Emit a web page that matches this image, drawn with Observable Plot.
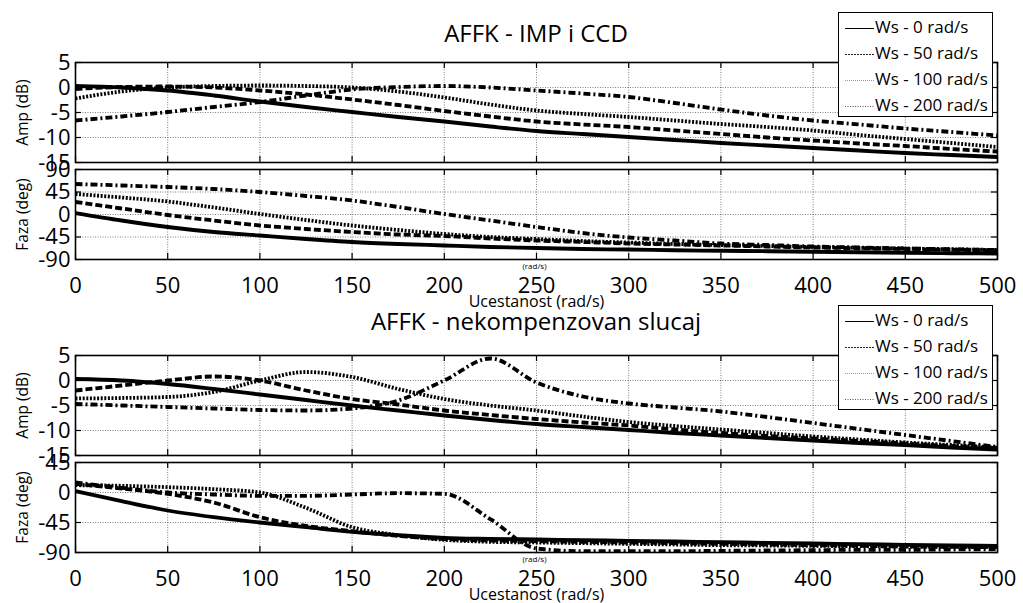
<!DOCTYPE html>
<html>
<head>
<meta charset="utf-8">
<script src="https://cdn.jsdelivr.net/npm/d3@7"></script>
<script src="https://cdn.jsdelivr.net/npm/@observablehq/plot@0.6"></script>
<style>
  html, body { margin: 0; padding: 0; background: #fff; }
  #root { position: relative; width: 1023px; height: 603px; overflow: hidden; font-family: "Open Sans", sans-serif; background: #fff; }
  .pl { position: absolute; left: 0; }
  .title { position: absolute; left: 75px; width: 922px; text-align: center; font-size: 24px; line-height: 1; color: #000; white-space: nowrap; }
  .legend { position: absolute; left: 838px; width: 155px; height: 105px; border: 1px solid #000; background: #fff; box-sizing: border-box; z-index: 10; }
  .legend .row { position: absolute; left: 0; height: 26px; line-height: 26px; font-size: 17px; white-space: nowrap; }
  .legend svg { position: absolute; left: 6px; top: 12px; }
  .legend span { position: absolute; left: 36px; top: -1px; }
</style>
</head>
<body>
<div id="root"></div>
<script>
// ---------------- data ----------------
const xs = [0, 25, 50, 75, 100, 125, 150, 175, 200, 225, 250, 275, 300, 325, 350, 375, 400, 425, 450, 475, 500];
const seriesNames = ["Ws - 0 rad/s", "Ws - 50 rad/s", "Ws - 100 rad/s", "Ws - 200 rad/s"];
const xTicks = [0, 50, 100, 150, 200, 250, 300, 350, 400, 450, 500];
const ampTicks = [5, 0, -5, -10, -15];
const phaseTicksTop = [90, 45, 0, -45, -90];
const phaseTicksBottom = [45, 0, -45, -90];

const titleTop = "AFFK - IMP i CCD";
const titleBottom = "AFFK - nekompenzovan slucaj";
const xLabel = "Ucestanost (rad/s)";

// AFFK - IMP i CCD, amplitude (dB)
const ampCCD_ws0   = [0.3, 0, -0.6, -1.6, -2.8, -3.9, -4.9, -5.9, -6.8, -7.8, -8.7, -9.3, -9.9, -10.5, -11.1, -11.6, -12.1, -12.6, -13.1, -13.5, -13.9];
const ampCCD_ws50  = [-0.3, 0.1, 0.2, 0, -0.6, -1.4, -2.4, -3.5, -4.7, -5.8, -6.8, -7.4, -7.9, -8.6, -9.3, -10.0, -10.6, -11.2, -11.7, -12.3, -12.8];
const ampCCD_ws100 = [-2.2, -0.8, 0, 0.3, 0.4, 0.3, 0, -0.8, -2.0, -3.4, -4.6, -5.3, -5.9, -6.6, -7.3, -7.9, -8.6, -9.5, -10.3, -11.1, -11.9];
const ampCCD_ws200 = [-6.6, -5.8, -4.9, -3.9, -2.9, -1.6, -0.4, 0.1, 0.3, 0, -0.6, -1.2, -1.9, -3.1, -4.4, -5.6, -6.6, -7.4, -8.2, -8.9, -9.6];

// AFFK - IMP i CCD, phase (deg)
const phCCD_ws0   = [3, -12, -25, -35, -42, -49, -55, -59, -62, -65, -67, -69, -70, -71.5, -72.5, -73.5, -74.5, -75.5, -76.5, -77.5, -78];
const phCCD_ws50  = [25, 12, -1, -12, -22, -29, -35, -40, -43, -48, -52, -55, -58, -60, -62, -64, -66, -67.5, -69, -70.5, -72];
const phCCD_ws100 = [41, 34, 26, 14, 1, -11, -22, -31, -39, -45, -49, -53, -56, -59, -61, -63, -65, -66.5, -68, -69.5, -71];
const phCCD_ws200 = [61, 58, 55, 51, 45, 37, 28, 15, 1, -12, -25, -37, -46, -52, -58, -61, -64, -66, -68, -69.5, -71];

// AFFK - nekompenzovan slucaj, amplitude (dB)
const ampNK_ws0   = [0.3, 0, -0.7, -1.7, -2.8, -3.9, -5.0, -6.0, -7.0, -7.9, -8.7, -9.3, -9.9, -10.5, -11.0, -11.5, -12.0, -12.5, -12.9, -13.4, -13.8];
const ampNK_ws50  = [-2, -1, 0, 0.8, 0, -2, -3.7, -4.8, -6, -6.9, -7.7, -8.4, -9.0, -9.8, -10.5, -11.1, -11.6, -12.1, -12.6, -13.1, -13.5];
const ampNK_ws100 = [-3.6, -3.5, -3.3, -2.3, 0, 1.7, 0.7, -1.7, -3.7, -5.0, -6.0, -7.2, -8.3, -9.1, -9.8, -10.5, -11.2, -11.8, -12.4, -12.9, -13.4];
const ampNK_ws200 = [-4.7, -5.0, -5.3, -5.6, -5.9, -6.0, -5.6, -4.0, 0, 4.4, -0.4, -3.2, -4.6, -5.4, -6.2, -7.3, -8.5, -9.7, -10.9, -12.1, -13.3];

// AFFK - nekompenzovan slucaj, phase (deg)
const phNK_ws0   = [2, -13, -27, -37, -45, -52, -59, -64, -68, -69.5, -70.5, -71.5, -72.5, -73.5, -74.5, -75.5, -76.5, -77.5, -78.5, -79.5, -80];
const phNK_ws50  = [13, 6, -2, -15, -37, -50, -58, -65, -70, -72, -73, -74, -75, -76, -77, -78, -79, -80, -81, -81.5, -82];
const phNK_ws100 = [11, 10, 8, 5, 0, -23, -52, -64, -71, -74, -75, -76, -77, -78, -79, -79.5, -80, -80.5, -81, -81.5, -82];
const phNK_ws200 = [15, 7, 0, -3, -5, -5, -3, -1, -2, -40, -84, -88, -88, -88, -87.5, -87, -86.5, -86, -86, -85.5, -85];

// ---------------- drawing ----------------
const FONT = "Open Sans, sans-serif";
const W = 1023, ML = 75, MR = 26, FW = W - ML - MR;
const dashes = [null, "7,3", "2,1.6", "7,3,2,3"];
const root = document.getElementById("root");

function rows(arr) { return xs.map((x, i) => ({x, v: arr[i]})); }

function panel({sets, yDomain, yTicks, yLabel, top, frameH, withX}) {
  const mt = 12, mb = withX ? 52 : 12;
  const marks = [
    Plot.gridX(xTicks, {stroke: "#000", strokeOpacity: 0.5, strokeDasharray: "1,1.5", strokeWidth: 1}),
    Plot.gridY(yTicks, {stroke: "#000", strokeOpacity: 0.5, strokeDasharray: "1,1.5", strokeWidth: 1}),
    ...sets.map((arr, i) => Plot.line(rows(arr), {
      x: "x", y: "v", stroke: "#000", strokeWidth: 3.8, curve: "monotone-x",
      strokeDasharray: dashes[i] ?? undefined, strokeLinecap: "butt"
    })),
    Plot.tickX(xTicks, {x: d => d, stroke: "#000", strokeWidth: 1.2, insetBottom: frameH - 6}),
    Plot.tickX(xTicks, {x: d => d, stroke: "#000", strokeWidth: 1.2, insetTop: frameH - 6}),
    Plot.tickY(yTicks, {y: d => d, stroke: "#000", strokeWidth: 1.2, insetRight: FW - 6}),
    Plot.tickY(yTicks, {y: d => d, stroke: "#000", strokeWidth: 1.2, insetLeft: FW - 6}),
    Plot.frame({stroke: "#000", strokeWidth: 1.6}),
    Plot.axisY(yTicks, {tickSize: 0, tickPadding: 5, fontSize: 22, label: null, tickFormat: d => String(d)}),
    Plot.text([yLabel], {frameAnchor: "left", rotate: -90, dx: -52, fontSize: 15.5, textAnchor: "middle", lineAnchor: "middle"})
  ];
  if (withX) {
    marks.push(
      Plot.axisX(xTicks, {tickSize: 0, tickPadding: 18, fontSize: 22, label: null, tickFormat: d => String(d)}),
      Plot.text(["(rad/s)"], {frameAnchor: "bottom", dx: -2, dy: 7, fontSize: 8, lineAnchor: "middle"}),
      Plot.text([xLabel], {frameAnchor: "bottom", dy: 47, fontSize: 16, lineAnchor: "bottom"})
    );
  }
  const svg = Plot.plot({
    width: W, height: mt + frameH + mb,
    marginLeft: ML, marginRight: MR, marginTop: mt, marginBottom: mb,
    x: {domain: [0, 500], axis: withX ? undefined : null},
    y: {domain: yDomain},
    style: {background: "transparent", overflow: "visible", fontFamily: FONT, color: "#000"},
    marks
  });
  svg.classList.add("pl");
  svg.style.top = (top - mt) + "px";
  svg.style.position = "absolute";
  root.appendChild(svg);
}

function title(text, top) {
  const d = document.createElement("div");
  d.className = "title";
  d.style.top = top + "px";
  d.textContent = text;
  root.appendChild(d);
}

function legend(top) {
  const box = document.createElement("div");
  box.className = "legend";
  box.style.top = top + "px";
  const styles = [
    {stroke: "#000", dash: null},
    {stroke: "#222", dash: "2,1"},
    {stroke: "#999", dash: "1,1"},
    {stroke: "#555", dash: "1,1.5"}
  ];
  seriesNames.forEach((name, i) => {
    const r = document.createElement("div");
    r.className = "row";
    r.style.top = (2 + i * 26) + "px";
    const ns = "http://www.w3.org/2000/svg";
    const s = document.createElementNS(ns, "svg");
    s.setAttribute("width", 30); s.setAttribute("height", 3);
    const l = document.createElementNS(ns, "line");
    l.setAttribute("x1", 0); l.setAttribute("x2", 29); l.setAttribute("y1", 1.5); l.setAttribute("y2", 1.5);
    l.setAttribute("stroke", styles[i].stroke); l.setAttribute("stroke-width", 1);
    if (styles[i].dash) l.setAttribute("stroke-dasharray", styles[i].dash);
    s.appendChild(l);
    const t = document.createElement("span");
    t.textContent = name;
    r.appendChild(s); r.appendChild(t);
    box.appendChild(r);
  });
  root.appendChild(box);
}

panel({sets: [ampCCD_ws0, ampCCD_ws50, ampCCD_ws100, ampCCD_ws200], yDomain: [-15, 5], yTicks: ampTicks, yLabel: "Amp (dB)", top: 62, frameH: 100, withX: false});
panel({sets: [phCCD_ws0, phCCD_ws50, phCCD_ws100, phCCD_ws200], yDomain: [-90, 90], yTicks: phaseTicksTop, yLabel: "Faza (deg)", top: 169, frameH: 90, withX: true});
panel({sets: [ampNK_ws0, ampNK_ws50, ampNK_ws100, ampNK_ws200], yDomain: [-15, 5], yTicks: ampTicks, yLabel: "Amp (dB)", top: 355, frameH: 100, withX: false});
panel({sets: [phNK_ws0, phNK_ws50, phNK_ws100, phNK_ws200], yDomain: [-90, 45], yTicks: phaseTicksBottom, yLabel: "Faza (deg)", top: 462, frameH: 90, withX: true});

title(titleTop, 21);
title(titleBottom, 309);
legend(12);
legend(305);
</script>
</body>
</html>
